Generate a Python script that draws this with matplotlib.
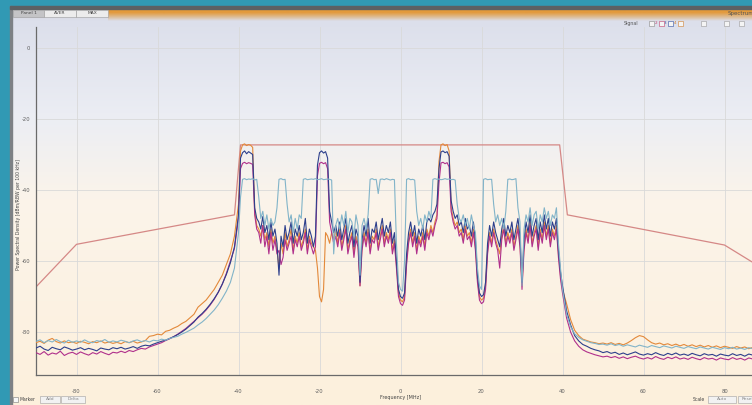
import numpy as np
import matplotlib
matplotlib.use("Agg")
from matplotlib import pyplot as plt
from matplotlib.patches import Rectangle
from matplotlib.colors import LinearSegmentedColormap, to_rgba

plt.rcParams['axes.unicode_minus'] = False

W, H = 752, 405

# frequency grids [MHz]: 1 MHz out of band, 0.5 MHz inside the channel
f_left = np.arange(-90, -40, 1.0)
f_band = np.arange(-40, 40.5, 0.5)
f_right = np.arange(41, 91, 1.0)

# spectrum emission mask [dBm]
mask_f = [-90, -80, -41, -39.5, 39.3, 41.2, 80, 90]
mask_db = [-67.3, -55.3, -47, -27.3, -27.3, -47, -55.5, -62.5]

# trace 4 (orange)
or_left = [-83, -82.6, -83.2, -82.3, -81.8, -82.7, -83.1, -82.5, -83, -82.8,
           -83.2, -82.6, -82.9, -83.3, -82.7, -83, -82.5, -83.1, -82.8, -83.2,
           -82.9, -83.3, -82.7, -83, -82.6, -83.1, -82.8, -82.4, -81.2, -81,
           -80.6, -80.8, -79.8, -79.5, -78.9, -78.4, -77.6, -77, -76, -75,
           -73, -72, -71, -69.5, -68, -66, -64, -61, -58, -53]
or_band = [-44, -29, -27.3, -27, -27.5, -27.2, -27.4, -28, -46, -50,
           -51, -53, -50, -54, -52, -56, -51, -55, -53, -57,
           -62, -55, -58, -52, -56, -54, -51, -57, -53, -55,
           -52, -56, -54, -51, -57, -53, -55, -56, -57, -62,
           -70, -71.5, -68, -52, -53, -55, -52, -54, -51, -55,
           -51, -56, -53, -50, -57, -54, -52, -58, -53, -55,
           -67, -56, -52, -55, -51, -57, -53, -54, -51, -56,
           -53, -50, -55, -52, -54, -51, -57, -54, -61, -69,
           -71, -71.5, -70, -60, -54, -51, -55, -52, -57, -53,
           -55, -52, -56, -51, -53, -50, -52, -49, -47, -32,
           -27.3, -27, -27.5, -27.2, -29, -45, -48, -50, -49, -52,
           -51, -54, -50, -53, -52, -55, -51, -56, -65, -70,
           -71, -70.5, -67, -57, -52, -55, -51, -54, -56, -58,
           -53, -50, -55, -52, -54, -51, -56, -53, -50, -55,
           -67, -56, -51, -54, -49, -55, -52, -50, -56, -51,
           -54, -49, -53, -50, -55, -51, -53, -50, -58, -64,
           -68]
or_right = [-72, -76.5, -79.5, -81, -82, -82.4, -82.8, -83, -83.3, -83.1,
            -83.4, -83, -83.5, -83.2, -83.6, -83.1, -82.4, -81.6, -81, -81.3,
            -82.2, -83, -83.4, -83.1, -83.6, -83.3, -83.8, -83.4, -83.9, -83.5,
            -84, -83.6, -84.1, -83.7, -84.2, -83.8, -84.3, -83.9, -84.4, -84,
            -84.3, -84.6, -84.1, -84.5, -84.2, -84.7, -84.3, -84.6, -84.2, -84.5]

# trace 2 (magenta)
mg_left = [-85.8, -86.3, -85.5, -86.5, -85.9, -86.2, -85.4, -86.6, -86, -85.7,
           -86.3, -85.6, -86.1, -86.5, -85.8, -86.2, -85.5, -86, -86.4, -85.7,
           -85.9, -85.4, -85.8, -85.2, -85.5, -85, -84.6, -84.8, -84.2, -83.8,
           -83.4, -83, -82.4, -81.9, -81.3, -80.6, -79.8, -79, -78, -77,
           -76, -75, -73.8, -72.4, -70.8, -68.8, -66.5, -63.5, -60, -56.5]
mg_band = [-48, -34, -32.5, -32.2, -32.6, -32.3, -32.5, -32.8, -47, -51,
           -52, -55, -50, -56, -53, -58, -52, -57, -54, -58,
           -57, -61, -59, -54, -57, -55, -53, -58, -54, -56,
           -53, -57, -55, -52, -58, -54, -56, -58, -56, -36,
           -32.5, -32.2, -32.6, -32.3, -34, -49, -52, -55, -53, -56,
           -52, -57, -54, -51, -58, -55, -53, -59, -54, -56,
           -67, -57, -53, -56, -52, -58, -54, -55, -52, -57,
           -54, -51, -56, -53, -55, -52, -58, -55, -62, -70,
           -72, -72.5, -71, -61, -55, -52, -56, -53, -58, -54,
           -56, -53, -57, -52, -54, -51, -53, -50, -48, -38,
           -32.4, -32.2, -32.6, -32.3, -33.5, -46, -49, -51, -50, -53,
           -52, -55, -51, -54, -53, -56, -52, -57, -66, -71,
           -72, -71.5, -68, -58, -53, -56, -52, -55, -57, -62,
           -54, -51, -56, -53, -55, -52, -57, -54, -51, -56,
           -68, -57, -52, -55, -50, -56, -53, -51, -57, -52,
           -55, -50, -54, -51, -56, -52, -54, -51, -59, -65,
           -69]
mg_right = [-76, -80, -82.5, -84, -85, -85.6, -86, -86.4, -86.7, -87,
            -86.8, -87.2, -86.9, -87.4, -87, -87.5, -87.1, -86.8, -87.3, -87.6,
            -87.2, -87.6, -86.9, -87.4, -87.7, -87.1, -87.5, -87, -87.6, -87.3,
            -87.7, -87.1, -87.5, -87.8, -87.2, -87.6, -87.4, -87.9, -87.3, -87.6,
            -87.8, -87.2, -87.7, -87.4, -87.9, -87.3, -87.6, -88, -87.4, -87.7]

# trace 3 (dark blue)
nv_left = [-84.5, -84, -84.8, -85.2, -84.3, -84.7, -85, -84.2, -84.6, -85.1,
           -84.8, -84.4, -85, -84.6, -84.9, -85.3, -84.5, -84.8, -85, -84.4,
           -84.7, -84.3, -84.8, -84.5, -84.1, -84.6, -84, -83.7, -83.9, -83.4,
           -83, -82.6, -82.3, -81.8, -81.3, -80.7, -80, -79.2, -78.2, -77.2,
           -75.8, -74.8, -73.6, -72.2, -70.6, -68.8, -66.5, -63.8, -60.5, -56]
nv_band = [-47, -31, -29.5, -29, -29.8, -29.2, -29.6, -30, -45, -48,
           -49, -51, -47.5, -52, -50, -54, -49, -53, -51, -55,
           -64, -53, -56, -50, -54, -52, -49, -55, -51, -53,
           -50, -54, -52, -48, -55, -51, -53, -56, -53, -33,
           -29.5, -29, -29.6, -29.2, -31, -46, -49, -52, -50, -53,
           -49, -54, -51, -48, -55, -52, -50, -56, -51, -53,
           -66, -54, -50, -53, -48, -55, -51, -52, -49, -54,
           -51, -48, -53, -50, -52, -49, -55, -52, -60, -68,
           -70, -70.5, -69, -58, -52, -49, -53, -50, -55, -51,
           -53, -50, -54, -49, -48, -49, -47, -46, -44, -34,
           -29.3, -29, -29.5, -29.2, -30.5, -43, -46, -48, -47, -50,
           -49, -52, -48, -51, -50, -53, -49, -54, -64, -69,
           -70, -69.5, -66, -55, -50, -53, -49, -52, -54, -56,
           -51, -48, -53, -50, -52, -49, -54, -51, -48, -53,
           -66, -54, -49, -52, -47, -53, -50, -48, -54, -49,
           -52, -47, -51, -48, -53, -49, -51, -48, -57, -63,
           -67]
nv_right = [-74, -78, -81, -82.5, -83.5, -84, -84.6, -85, -85.3, -85.8,
            -85.5, -86, -85.7, -86.3, -85.9, -86.4, -86, -85.6, -86.2, -86.5,
            -86.1, -86.4, -85.8, -86.3, -86.6, -86, -86.4, -85.9, -86.5, -86.2,
            -86.6, -86, -86.4, -86.7, -86.1, -86.5, -86.3, -86.8, -86.2, -86.5,
            -86.7, -86.1, -86.6, -86.3, -86.8, -86.2, -86.5, -86.9, -86.3, -86.6]

# trace 1 (light blue)
lb_left = [-82.6, -82.2, -83, -82.4, -82.8, -82.1, -82.7, -83.1, -82.3, -82.9,
           -82.5, -82.9, -82.2, -82.8, -83, -82.4, -82.7, -82.1, -82.9, -82.5,
           -82.8, -82.3, -82.6, -83, -82.5, -82.2, -82.7, -82.4, -82.8, -82.3,
           -82.5, -82, -82.3, -81.8, -81.5, -81.2, -80.6, -80.1, -79.5, -78.9,
           -78, -77.2, -76.2, -75, -73.8, -72.3, -70.5, -68.5, -66, -62]
lb_band = [-52, -42, -37, -36.8, -37.1, -36.9, -37, -36.8, -37.2, -37,
           -42, -48, -46, -50, -47, -51, -48, -50, -49, -45,
           -37, -36.8, -37.1, -37, -44, -49, -47, -52, -48, -51,
           -47, -48, -37, -36.8, -37.1, -37, -36.9, -37, -36.8, -37.1,
           -37, -36.8, -37.1, -37, -36.9, -37, -37.2, -58, -50, -48,
           -51, -47, -50, -46, -52, -48, -49, -53, -47, -50,
           -64, -50, -48, -51, -47, -37, -36.8, -37.1, -37, -41,
           -37, -36.9, -37.1, -36.8, -37, -37.2, -37, -37.1, -55, -66,
           -68, -68.5, -60, -37, -36.8, -37.1, -37, -37.2, -46, -50,
           -48, -51, -47, -49, -46, -48, -37, -36.8, -37, -36.9,
           -37.1, -37, -36.8, -37, -36.9, -37.1, -37, -37.2, -44, -48,
           -49, -47, -50, -48, -51, -47, -50, -52, -62, -67,
           -68, -37, -36.8, -37.1, -37, -37, -44, -49, -47, -50,
           -48, -51, -46, -37, -36.9, -37.1, -37, -36.8, -45, -49,
           -67, -51, -47, -49, -45, -50, -47, -46, -51, -47,
           -49, -45, -48, -46, -50, -47, -48, -45, -55, -62,
           -68]
lb_right = [-75, -78.5, -80.5, -81.5, -82.2, -82.6, -83, -83.2, -83.5, -83.4,
            -83.7, -83.3, -83.8, -83.5, -84, -83.6, -83.9, -84.2, -83.7, -84,
            -84.3, -83.8, -84.1, -84.4, -83.9, -84.2, -84.5, -84, -84.3, -84.6,
            -84.1, -84.4, -84.7, -84.2, -84.5, -84.8, -84.3, -84.6, -84.9, -84.4,
            -84.7, -84.3, -84.8, -84.5, -84.9, -84.4, -84.7, -85, -84.6, -84.8]

x_ticks = [-80, -60, -40, -20, 0, 20, 40, 60, 80]
y_ticks = [0, -20, -40, -60, -80]

freq = np.concatenate([f_left, f_band, f_right])
traces = [
    (or_left + or_band + or_right, '#e3893a'),
    (mg_left + mg_band + mg_right, '#b0308c'),
    (nv_left + nv_band + nv_right, '#2d3f8c'),
    (lb_left + lb_band + lb_right, '#82b4c9'),
]


def px(x, y, w, h):
    # pixel box (top-left origin) -> figure fraction rect
    return [x / W, 1 - (y + h) / H, w / W, h / H]


fig = plt.figure(figsize=(W / 100, H / 100), dpi=100)
fig.patch.set_facecolor('#3199b4')

# window panel background gradient
bg = fig.add_axes(px(12, 8, W - 12, H - 8))
cmap = LinearSegmentedColormap.from_list('panel', [
    (0.0, '#d3d4d9'), (0.03, '#dcdfeb'), (0.28, '#eceef4'),
    (0.48, '#fbf4ea'), (1.0, '#fdf0dc')])
bg.imshow(np.linspace(0, 1, 256).reshape(-1, 1), cmap=cmap, aspect='auto',
          extent=[0, 1, 0, 1])
bg.set_axis_off()

# orange header strip
hd = fig.add_axes(px(108, 9, W - 108, 12))
rgba = np.zeros((64, 1, 4))
c = to_rgba('#e39a3c')
for i in range(64):
    rgba[i, 0] = (c[0], c[1], c[2], min(1.0, 1.5 * (1 - i / 63)))
hd.imshow(rgba, aspect='auto', extent=[0, 1, 0, 1])
hd.set_axis_off()

fig.patches.append(Rectangle((10 / W, 0), 2 / W, 1 - 6 / H, transform=fig.transFigure,
                             color='#7d8185', zorder=5))
fig.patches.append(Rectangle((10 / W, 1 - 9 / H), 1, 3 / H, transform=fig.transFigure,
                             color='#5c6064', zorder=5))

# tabs
for x0, w, label, fc in [(13, 31, 'Panel 1', '#c4c4c6'), (44, 32, 'AVER', '#ececec'),
                         (76, 32, 'MAX', '#ececec')]:
    fig.patches.append(Rectangle((x0 / W, 1 - 17 / H), w / W, 7 / H,
                                 transform=fig.transFigure, fc=fc, ec='#9a9a9a',
                                 lw=0.4, zorder=6))
    fig.text((x0 + w / 2) / W, 1 - 13.5 / H, label, fontsize=3.2, color='#444444',
             ha='center', va='center', zorder=7)
fig.text(728 / W, 1 - 14 / H, 'Spectrum', fontsize=4, color='#555555',
         ha='left', va='center')

# signal selector
fig.text(624 / W, 1 - 23 / H, 'Signal', fontsize=3.4, color='#555555', va='center')
for x0, num, col in [(649, '', '#888888'), (659, '2', '#c0406a'), (668, '3', '#3050a0'),
                     (678, '4', '#d08030'), (701, '', '#999999'), (724, '', '#999999'),
                     (739, '', '#999999')]:
    fig.patches.append(Rectangle((x0 / W, 1 - 25.5 / H), 5 / W, 5 / H,
                                 transform=fig.transFigure, fc='#f4f4f4', ec=col,
                                 lw=0.4, zorder=6))
    if num:
        fig.text((x0 - 2.5) / W, 1 - 23 / H, num, fontsize=3, color=col,
                 ha='center', va='center')

# bottom controls
fig.patches.append(Rectangle((13 / W, 1 - 402 / H), 5 / W, 5 / H, transform=fig.transFigure,
                             fc='#f7f7f7', ec='#777777', lw=0.4, zorder=6))
fig.text(20 / W, 1 - 399.5 / H, 'Marker', fontsize=3.3, color='#444444', va='center')
for x0, w, label in [(40, 20, 'Add'), (61, 24, 'Delta'), (708, 28, 'Auto'), (738, 20, 'Reset')]:
    fig.patches.append(Rectangle((x0 / W, 1 - 403 / H), w / W, 7 / H,
                                 transform=fig.transFigure, fc='#f2f2f2', ec='#a0a0a0',
                                 lw=0.4, zorder=6))
    fig.text((x0 + w / 2) / W, 1 - 399.5 / H, label, fontsize=3.2, color='#888888',
             ha='center', va='center', zorder=7)
fig.text(705 / W, 1 - 399.5 / H, 'Scale', fontsize=3.3, color='#444444',
         ha='right', va='center')

# main plot
ax = fig.add_axes(px(36, 27, 729, 348))
ax.set_facecolor('none')
ax.plot(mask_f, mask_db, color='#d58886', lw=0.9, zorder=2)
for vals, col in traces:
    ax.plot(freq, vals, color=col, lw=0.8, zorder=3)

ax.set_xlim(-90, 90)
ax.set_ylim(-92.1, 5.9)
ax.set_xticks(x_ticks)
ax.set_xticklabels([str(v) for v in x_ticks])
ax.set_yticks(y_ticks)
ax.set_yticklabels([str(v) for v in y_ticks])
ax.grid(True, color='#d9d9d9', lw=0.6)
ax.set_axisbelow(True)
for s in ['top', 'right']:
    ax.spines[s].set_visible(False)
for s in ['left', 'bottom']:
    ax.spines[s].set_color('#6a6a6a')
    ax.spines[s].set_linewidth(0.9)
ax.tick_params(axis='both', length=0, labelsize=3.8, labelcolor='#606060')
ax.tick_params(axis='x', pad=10)
ax.tick_params(axis='y', pad=4)

fig.text(401 / W, 1 - 397 / H, 'Frequency [MHz]', fontsize=3.5, color='#444444',
         ha='center', va='center')
fig.text(19 / W, 1 - 215 / H, 'Power Spectral Density [dBm/RBW per 100 kHz]',
         fontsize=3.3, color='#444444', rotation=90, ha='center', va='center')

fig.savefig('out.png', dpi=100, facecolor=fig.get_facecolor())
